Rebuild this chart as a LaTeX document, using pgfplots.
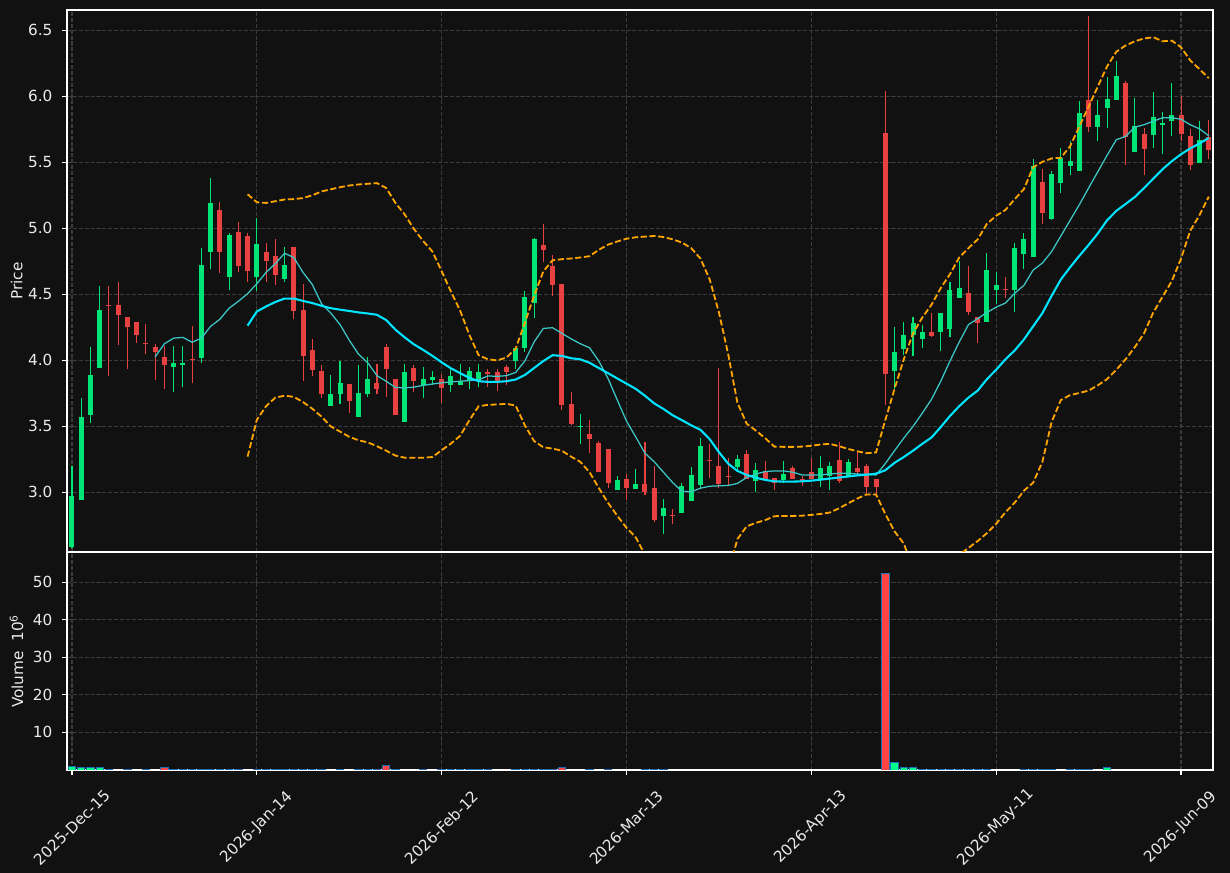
\documentclass[border=0pt]{standalone}
\usepackage{fontspec}
\setmainfont{DejaVu Sans}
\usepackage{pgfplots}
\usepackage{pgfplotstable}
\pgfplotsset{compat=1.18}
\definecolor{bg}{HTML}{111111}
\definecolor{upc}{HTML}{00E676}
\definecolor{dnc}{HTML}{E84142}
\definecolor{vup}{HTML}{00FF88}
\definecolor{vdn}{HTML}{FF4444}
\definecolor{vedge}{HTML}{1F6FB4}
\definecolor{maA}{HTML}{00E5FF}
\definecolor{maB}{HTML}{3CC8C8}
\definecolor{bb}{HTML}{FFA500}
\definecolor{gridc}{HTML}{3C3C3C}
\definecolor{txt}{HTML}{EAEAEA}

\pgfplotstableread{
i o h l c v
0 2.587 3.200 2.580 2.974 0.9
1 2.945 3.713 2.940 3.571 0.65
2 3.589 4.100 3.529 3.889 0.65
3 3.945 4.561 3.945 4.382 0.65
4 4.418 4.561 3.879 4.410 0.25
5 4.418 4.592 4.118 4.345 nan
6 4.329 4.329 3.932 4.255 0.25
7 4.289 4.289 4.132 4.195 nan
8 4.132 4.274 4.047 4.122 0.25
9 4.100 4.121 3.855 4.066 nan
10 4.026 4.105 3.784 3.963 0.75
11 3.947 4.105 3.758 3.979 0.2
12 3.968 4.105 3.795 3.979 0.2
13 4.011 4.258 3.826 4.000 0.2
14 4.021 4.847 3.979 4.721 0.2
15 4.824 5.379 4.689 5.192 0.2
16 5.139 5.200 4.658 4.824 0.2
17 4.634 4.968 4.532 4.950 0.2
18 4.971 5.045 4.666 4.713 0.2
19 4.942 4.968 4.592 4.679 nan
20 4.634 5.076 4.526 4.882 0.2
21 4.821 4.887 4.597 4.755 0.2
22 4.789 4.916 4.574 4.650 0.2
23 4.618 4.855 4.597 4.721 0.2
24 4.858 4.858 4.311 4.376 0.2
25 4.382 4.576 3.842 4.034 0.2
26 4.079 4.161 3.884 3.929 0.2
27 3.918 3.963 3.713 3.747 0.2
28 3.655 3.889 3.655 3.745 nan
29 3.747 3.992 3.666 3.829 0.2
30 3.821 3.821 3.605 3.692 nan
31 3.574 3.968 3.574 3.753 0.2
32 3.742 4.026 3.726 3.858 0.2
33 3.829 3.976 3.747 3.784 0.2
34 4.100 4.121 3.721 3.934 1.26
35 3.858 3.858 3.587 3.587 0.2
36 3.537 3.976 3.537 3.913 nan
37 3.942 3.963 3.758 3.847 nan
38 3.811 3.950 3.713 3.858 0.2
39 3.853 3.916 3.811 3.876 nan
40 3.858 3.897 3.679 3.789 0.2
41 3.816 3.942 3.758 3.882 0.2
42 3.816 3.974 3.811 3.847 0.2
43 3.847 3.947 3.784 3.918 0.2
44 3.842 3.974 3.795 3.913 0.2
45 3.913 3.934 3.795 3.897 0.2
46 3.913 3.937 3.771 3.842 nan
47 3.953 3.968 3.811 3.913 nan
48 3.997 4.100 3.934 4.095 0.2
49 4.095 4.526 4.063 4.479 0.2
50 4.434 4.929 4.318 4.918 0.2
51 4.874 5.029 4.742 4.839 0.2
52 4.713 4.797 4.489 4.574 0.2
53 4.579 4.579 3.626 3.663 0.73
54 3.668 3.758 3.508 3.518 nan
55 3.495 3.592 3.368 3.505 nan
56 3.442 3.547 3.295 3.408 0.2
57 3.374 3.389 3.155 3.155 nan
58 3.329 3.329 3.032 3.074 0.2
59 3.021 3.121 3.021 3.095 nan
60 3.103 3.139 2.942 3.037 nan
61 3.026 3.179 3.026 3.063 nan
62 3.063 3.382 2.979 3.005 0.2
63 3.032 3.197 2.774 2.795 0.2
64 2.824 2.947 2.689 2.879 0.2
65 2.832 2.871 2.758 2.829 nan
66 2.842 3.068 2.842 3.050 nan
67 2.937 3.189 2.937 3.132 nan
68 3.058 3.411 3.037 3.353 nan
69 3.247 3.368 3.111 3.237 nan
70 3.200 3.942 3.032 3.066 nan
71 3.126 3.258 3.058 3.121 nan
72 3.192 3.284 3.153 3.253 nan
73 3.289 3.324 3.100 3.100 nan
74 3.089 3.226 3.000 3.168 nan
75 3.163 3.239 3.095 3.100 nan
76 3.108 3.108 3.021 3.068 nan
77 3.095 3.239 3.068 3.139 nan
78 3.184 3.200 3.100 3.103 nan
79 3.103 3.126 3.047 3.089 nan
80 3.155 3.258 3.100 3.105 nan
81 3.100 3.276 3.039 3.184 nan
82 3.124 3.232 3.021 3.200 nan
83 3.242 3.379 3.068 3.089 nan
84 3.118 3.253 3.118 3.232 nan
85 3.184 3.316 3.126 3.153 nan
86 3.200 3.216 2.982 3.042 nan
87 3.100 3.100 2.982 3.042 nan
88 5.721 6.037 3.661 3.900 52.3
89 3.916 4.253 3.784 4.061 1.97
90 4.089 4.287 4.037 4.192 0.65
91 4.195 4.329 4.032 4.282 0.65
92 4.163 4.268 4.095 4.218 0.2
93 4.216 4.358 4.179 4.187 0.2
94 4.218 4.358 4.068 4.358 0.2
95 4.239 4.597 4.179 4.532 0.2
96 4.474 4.753 4.474 4.547 0.2
97 4.511 4.718 4.347 4.366 0.2
98 4.329 4.329 4.134 4.284 0.2
99 4.292 4.811 4.292 4.684 0.2
100 4.534 4.666 4.429 4.571 nan
101 4.542 4.629 4.474 4.532 nan
102 4.532 4.889 4.368 4.850 nan
103 4.808 4.968 4.689 4.918 0.2
104 4.784 5.521 4.784 5.468 0.2
105 5.350 5.447 5.029 5.118 0.2
106 5.071 5.437 5.063 5.411 0.2
107 5.345 5.605 5.271 5.532 nan
108 5.474 5.658 5.405 5.511 0.2
109 5.437 5.961 5.437 5.874 0.2
110 5.968 6.605 5.726 5.768 0.2
111 5.768 5.968 5.658 5.858 nan
112 5.913 6.147 5.758 5.979 0.65
113 5.974 6.268 5.974 6.153 nan
114 6.100 6.118 5.476 5.695 nan
115 5.574 5.989 5.574 5.774 nan
116 5.713 5.758 5.400 5.603 nan
117 5.708 6.029 5.605 5.842 nan
118 5.784 5.879 5.561 5.797 nan
119 5.816 6.097 5.700 5.858 nan
120 5.858 6.000 5.658 5.716 nan
121 5.697 5.750 5.439 5.476 nan
122 5.492 5.811 5.492 5.668 nan
123 5.689 5.818 5.526 5.595 nan
}\candles

\pgfplotstableread{
i m10 m20 bu bl
9 4.026 nan nan nan
10 4.126 nan nan nan
11 4.168 nan nan nan
12 4.174 nan nan nan
13 4.137 nan nan nan
14 4.168 nan nan nan
15 4.258 nan nan nan
16 4.311 nan nan nan
17 4.395 nan nan nan
18 4.447 nan nan nan
19 4.505 4.263 5.258 3.271
20 4.580 4.370 5.197 3.550
21 4.666 4.408 5.192 3.653
22 4.732 4.442 5.205 3.718
23 4.811 4.468 5.218 3.732
24 4.779 4.468 5.221 3.724
25 4.666 4.450 5.229 3.684
26 4.574 4.434 5.250 3.634
27 4.429 4.413 5.279 3.574
28 4.358 4.395 5.295 3.500
29 4.271 4.384 5.311 3.461
30 4.153 4.374 5.324 3.421
31 4.047 4.363 5.332 3.395
32 3.982 4.355 5.337 3.379
33 3.884 4.345 5.342 3.350
34 3.842 4.305 5.305 3.316
35 3.795 4.232 5.192 3.279
36 3.792 4.174 5.105 3.263
37 3.797 4.121 4.995 3.263
38 3.811 4.079 4.903 3.263
39 3.821 4.034 4.824 3.268
40 3.830 3.985 4.675 3.320
41 3.837 3.940 4.521 3.370
42 3.842 3.903 4.376 3.429
43 3.847 3.868 4.192 3.547
44 3.853 3.842 4.039 3.653
45 3.882 3.837 4.008 3.663
46 3.879 3.837 4.000 3.666
47 3.884 3.842 4.021 3.671
48 3.908 3.855 4.087 3.658
49 3.995 3.889 4.284 3.508
50 4.139 3.942 4.489 3.389
51 4.242 3.995 4.674 3.342
52 4.247 4.039 4.758 3.332
53 4.205 4.034 4.766 3.316
54 4.163 4.016 4.771 3.271
55 4.126 4.008 4.779 3.232
56 4.095 3.982 4.789 3.153
57 3.995 3.942 4.837 3.034
58 3.863 3.903 4.876 2.921
59 3.700 3.863 4.900 2.824
60 3.540 3.824 4.921 2.732
61 3.420 3.784 4.932 2.660
62 3.297 3.732 4.937 2.527
63 3.232 3.674 4.942 2.406
64 3.153 3.632 4.934 2.330
65 3.074 3.584 4.916 2.252
66 3.008 3.547 4.892 2.202
67 3.005 3.508 4.850 2.166
68 3.032 3.474 4.771 2.177
69 3.047 3.403 4.613 2.193
70 3.050 3.305 4.363 2.247
71 3.053 3.218 4.047 2.389
72 3.068 3.163 3.679 2.647
73 3.113 3.132 3.521 2.743
74 3.139 3.111 3.468 2.770
75 3.158 3.095 3.411 2.790
76 3.163 3.084 3.347 2.820
77 3.163 3.082 3.345 2.822
78 3.153 3.082 3.345 2.822
79 3.132 3.084 3.347 2.824
80 3.132 3.089 3.353 2.830
81 3.132 3.097 3.363 2.837
82 3.140 3.105 3.368 2.848
83 3.145 3.113 3.350 2.880
84 3.145 3.121 3.329 2.918
85 3.139 3.129 3.311 2.955
86 3.137 3.134 3.297 2.985
87 3.132 3.142 3.303 2.985
88 3.218 3.168 3.547 2.837
89 3.316 3.224 3.784 2.705
90 3.411 3.268 4.008 2.613
91 3.500 3.316 4.205 2.427
92 3.600 3.368 4.324 2.412
93 3.705 3.416 4.421 2.411
94 3.842 3.495 4.547 2.443
95 3.995 3.579 4.653 2.505
96 4.139 3.653 4.779 2.527
97 4.271 3.718 4.850 2.580
98 4.316 3.771 4.916 2.632
99 4.363 3.858 5.034 2.692
100 4.403 3.929 5.095 2.763
101 4.434 4.008 5.139 2.850
102 4.508 4.075 5.220 2.922
103 4.568 4.158 5.297 3.013
104 4.684 4.258 5.463 3.074
105 4.737 4.358 5.503 3.232
106 4.824 4.489 5.529 3.534
107 4.942 4.613 5.534 3.700
108 5.061 4.705 5.621 3.737
109 5.179 4.792 5.771 3.753
110 5.305 4.874 5.921 3.771
111 5.429 4.961 6.074 3.811
112 5.553 5.061 6.226 3.858
113 5.671 5.132 6.337 3.929
114 5.695 5.184 6.384 4.008
115 5.766 5.237 6.416 4.100
116 5.784 5.305 6.437 4.205
117 5.811 5.376 6.447 4.363
118 5.837 5.447 6.416 4.482
119 5.837 5.508 6.421 4.600
120 5.826 5.561 6.371 4.771
121 5.784 5.605 6.271 4.982
122 5.753 5.642 6.205 5.100
123 5.700 5.684 6.137 5.239
}\lines

\pgfplotsset{
  darkax/.style={
    scale only axis,
    width=825.12pt,
    xmin=-0.54, xmax=123.46,
    axis line style={white, line width=0.8pt},
    tick style={white, line width=0.8pt},
    major tick length=3.5pt,
    tick align=outside,
    tick pos=left,
    grid=major,
    major grid style={gridc, line width=0.8pt, dash pattern=on 2.96pt off 1.28pt},
    ticklabel style={font=\fontsize{11}{13}\selectfont, text=txt},
    yticklabel style={xshift=-3.5pt},
    label style={font=\fontsize{11}{13}\selectfont, text=txt},
    /pgf/number format/assume math mode=true,
    xtick={0,20,40,60,80,100,120},
  },
}

\begin{document}
\begin{tikzpicture}
\fill[bg] (0pt,0pt) rectangle (885.6pt,628.56pt);

\begin{axis}[darkax,
  name=price,
  at={(48.24pt,231.12pt)}, anchor=south west,
  height=390.24pt,
  ymin=2.549, ymax=6.653,
  ytick={3.0,3.5,4.0,4.5,5.0,5.5,6.0,6.5},
  yticklabel style={/pgf/number format/.cd, fixed, fixed zerofill, precision=1},
  xticklabels={},
  xtick style={draw=none},
  ylabel={Price},
  ylabel style={yshift=-3pt},
]
% wicks
\addplot[forget plot, draw=none, mark=none,
  restrict expr to domain={\thisrow{c}-\thisrow{o}}{0:100},
  error bars/.cd, y dir=plus, y explicit, error mark=none,
  error bar style={line width=0.75pt, draw=upc}]
  table[x=i, y=l, y error plus expr=\thisrow{h}-\thisrow{l}] {\candles};
\addplot[forget plot, draw=none, mark=none,
  restrict expr to domain={\thisrow{c}-\thisrow{o}}{-100:0},
  error bars/.cd, y dir=plus, y explicit, error mark=none,
  error bar style={line width=0.75pt, draw=dnc}]
  table[x=i, y=l, y error plus expr=\thisrow{h}-\thisrow{l}] {\candles};
% bodies
\addplot[forget plot, draw=none, mark=none,
  restrict expr to domain={\thisrow{c}-\thisrow{o}}{0:100},
  error bars/.cd, y dir=plus, y explicit, error mark=none,
  error bar style={line width=3.6pt, draw=upc}]
  table[x=i, y=o, y error plus expr=\thisrow{c}-\thisrow{o}] {\candles};
\addplot[forget plot, draw=none, mark=none,
  restrict expr to domain={\thisrow{c}-\thisrow{o}}{-100:0},
  error bars/.cd, y dir=plus, y explicit, error mark=none,
  error bar style={line width=3.6pt, draw=dnc}]
  table[x=i, y=c, y error plus expr=\thisrow{o}-\thisrow{c}] {\candles};
% lines
\addplot[maB, line width=0.9pt, mark=none] table[x=i, y=m10] {\lines};
\addplot[maA, line width=1.5pt, mark=none] table[x=i, y=m20] {\lines};
\addplot[bb, line width=1.3pt, mark=none, dash pattern=on 4.4pt off 1.9pt] table[x=i, y=bu] {\lines};
\addplot[bb, line width=1.3pt, mark=none, dash pattern=on 4.4pt off 1.9pt] table[x=i, y=bl] {\lines};
\end{axis}

\begin{axis}[darkax,
  at={(48.24pt,74.16pt)}, anchor=south west,
  height=156.6pt,
  ymin=0, ymax=57.9,
  ytick={10,20,30,40,50},
  ybar, bar width=0.8, bar shift=0pt,
  xticklabels={2025-Dec-15,2026-Jan-14,2026-Feb-12,2026-Mar-13,2026-Apr-13,2026-May-11,2026-Jun-09},
  xticklabel style={yshift=-38pt, rotate=45, anchor=center, inner sep=0pt},
  ylabel={Volume\ \ 10\textsuperscript{6}},
]
\addplot[fill=vup, draw=vedge, line width=0.7pt,
  restrict expr to domain={\thisrow{c}-\thisrow{o}}{0:100}]
  table[x=i, y=v] {\candles};
\addplot[fill=vdn, draw=vedge, line width=0.7pt,
  restrict expr to domain={\thisrow{c}-\thisrow{o}}{-100:0}]
  table[x=i, y=v] {\candles};
\end{axis}

\pgfresetboundingbox
\path (0pt,0pt) rectangle (885.6pt,628.56pt);
\end{tikzpicture}
\end{document}
